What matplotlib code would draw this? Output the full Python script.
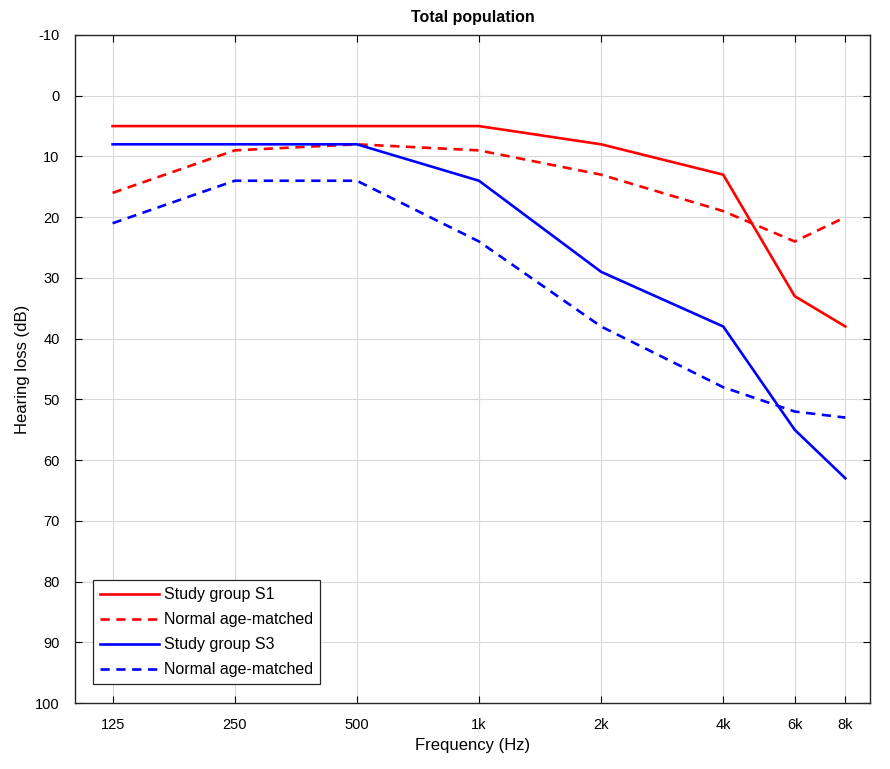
import matplotlib.pyplot as plt
import numpy as np

plt.rcParams['font.family'] = ['Liberation Sans', 'DejaVu Sans']
plt.rcParams['axes.unicode_minus'] = False

freqs = [125, 250, 500, 1000, 2000, 4000, 6000, 8000]
freq_labels = ['125', '250', '500', '1k', '2k', '4k', '6k', '8k']

s1 = [5, 5, 5, 5, 8, 13, 33, 38]
s1_norm = [16, 9, 8, 9, 13, 19, 24, 20]
s3 = [8, 8, 8, 14, 29, 38, 55, 63]
s3_norm = [21, 14, 14, 24, 38, 48, 52, 53]

fig = plt.figure(figsize=(8.9, 7.69), dpi=100)
ax = fig.add_axes([0.0843, 0.0858, 0.8932, 0.8687])

ax.plot(freqs, s1, color='#ff0000', lw=1.9, label='Study group S1')
ax.plot(freqs, s1_norm, color='#ff0000', lw=1.9, ls=(0, (3.5, 2.5)), label='Normal age-matched')
ax.plot(freqs, s3, color='#0000ff', lw=1.9, label='Study group S3')
ax.plot(freqs, s3_norm, color='#0000ff', lw=1.9, ls=(0, (3.5, 2.5)), label='Normal age-matched')

ax.set_xscale('log', base=2)
ax.set_xlim(101, 9200)
ax.set_xticks(freqs)
ax.set_xticklabels(freq_labels)
ax.minorticks_off()
ax.set_ylim(100, -10)
ax.set_yticks(np.arange(-10, 101, 10))

ax.grid(True, color='#d9d9d9', lw=0.8)
ax.tick_params(direction='in', top=True, right=True, length=5, labelsize=10.5, pad=11)
for s in ax.spines.values():
    s.set_color('#262626')
    s.set_linewidth(1.0)

ax.set_xlabel('Frequency (Hz)', fontsize=12)
ax.set_ylabel('Hearing loss (dB)', fontsize=12)
ax.set_title('Total population', fontsize=11.5, fontweight='bold', pad=9)

leg = ax.legend(loc='lower left', bbox_to_anchor=(0.022, 0.028), fontsize=11.5, handlelength=3.7,
                fancybox=False, framealpha=1, edgecolor='#262626', borderpad=0.45,
                labelspacing=0.62, handletextpad=0.3, borderaxespad=0)
leg.get_frame().set_linewidth(0.9)

plt.savefig('out.png', dpi=100)
plt.close(fig)
